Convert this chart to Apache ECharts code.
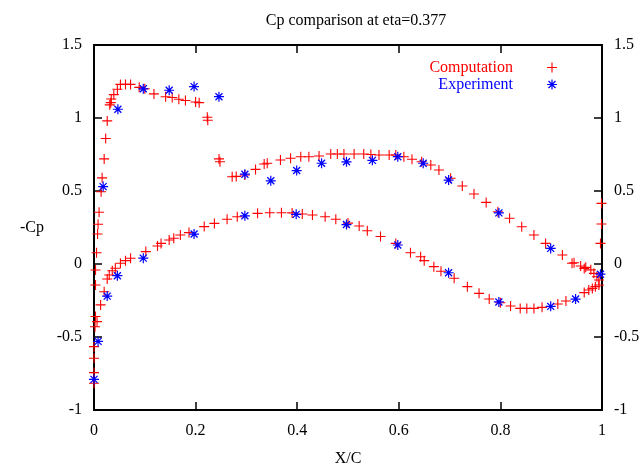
<!DOCTYPE html>
<html>
<head>
<meta charset="utf-8">
<script src="https://cdn.jsdelivr.net/npm/echarts@6/dist/echarts.min.js"></script>
<style>html,body{margin:0;padding:0;background:#fff}#c{width:643px;height:472px}</style>
</head>
<body>
<div id="c"></div>
<script>
const titleText = 'Cp comparison at eta=0.377';
const xName = 'X/C';
const yName = '-Cp';
const seriesNames = ['Computation', 'Experiment'];
const xTicks = [0, 0.2, 0.4, 0.6, 0.8, 1];
const yTicks = [-1, -0.5, 0, 0.5, 1, 1.5];

// Computation: [x/c, -Cp]
const computation = [
  [0.0,-0.817],[0.0,-0.744],[0.0,-0.646],[0.0,-0.566],[0.002,-0.43],[0.003,-0.36],[0.006,-0.395],
  [0.003,-0.144],[0.003,-0.041],[0.005,0.077],[0.007,0.205],[0.008,0.272],[0.010,0.354],[0.014,0.495],
  [0.016,0.59],[0.020,0.72],[0.023,0.86],[0.026,0.98],[0.031,1.09],[0.033,1.105],[0.034,1.13],
  [0.039,1.16],[0.046,1.197],[0.052,1.23],[0.062,1.23],[0.072,1.23],[0.089,1.21],[0.1,1.20],
  [0.118,1.165],[0.141,1.146],[0.154,1.14],[0.167,1.128],[0.18,1.12],[0.2,1.11],[0.207,1.105],
  [0.223,1.005],[0.224,0.985],[0.246,0.72],[0.248,0.70],[0.272,0.598],[0.28,0.6],[0.297,0.61],
  [0.318,0.648],[0.335,0.685],[0.341,0.69],[0.367,0.712],[0.387,0.724],[0.407,0.735],[0.423,0.735],
  [0.443,0.74],[0.466,0.753],[0.479,0.753],[0.492,0.753],[0.512,0.753],[0.531,0.753],[0.545,0.75],
  [0.561,0.747],[0.581,0.747],[0.594,0.747],[0.61,0.735],[0.626,0.717],[0.645,0.70],[0.663,0.678],
  [0.679,0.644],[0.702,0.587],[0.725,0.534],[0.748,0.479],[0.772,0.422],[0.795,0.358],[0.818,0.313],
  [0.842,0.255],[0.866,0.199],[0.889,0.141],[0.922,0.062],[0.941,0.005],[0.945,0.009],[0.958,-0.014],
  [0.965,-0.03],[0.968,-0.023],[0.978,-0.04],[0.984,-0.064],[0.99,-0.087],[0.994,-0.11],
  [0.999,0.415],[0.999,0.274],[0.997,0.141],
  [0.994,-0.144],[0.987,-0.155],[0.981,-0.167],[0.974,-0.178],[0.965,-0.196],[0.929,-0.253],
  [0.913,-0.274],[0.882,-0.297],[0.866,-0.304],[0.852,-0.304],[0.839,-0.304],[0.82,-0.288],
  [0.80,-0.265],[0.778,-0.24],[0.758,-0.201],[0.735,-0.155],[0.709,-0.098],[0.683,-0.05],
  [0.669,-0.018],[0.65,0.023],[0.643,0.05],[0.623,0.077],[0.594,0.141],[0.564,0.188],[0.538,0.228],
  [0.522,0.26],[0.50,0.28],[0.476,0.306],[0.455,0.324],[0.43,0.336],[0.41,0.342],[0.39,0.35],
  [0.369,0.351],[0.346,0.351],[0.322,0.347],[0.282,0.324],[0.262,0.306],[0.237,0.278],[0.217,0.256],
  [0.187,0.215],[0.17,0.199],[0.157,0.176],[0.148,0.164],[0.132,0.141],[0.125,0.123],[0.102,0.085],
  [0.072,0.039],[0.062,0.023],[0.052,0.005],[0.042,-0.029],[0.036,-0.046],[0.03,-0.075],
  [0.026,-0.103],[0.02,-0.19],[0.013,-0.28]
];

// Experiment: [x/c, -Cp]
const experiment = [
  [0.0,-0.79],[0.008,-0.53],[0.026,-0.22],[0.046,-0.08],[0.097,0.04],[0.197,0.205],[0.297,0.33],
  [0.398,0.34],[0.497,0.27],[0.598,0.13],[0.698,-0.06],[0.797,-0.26],[0.899,-0.29],[0.948,-0.24],
  [0.997,-0.07],
  [0.018,0.53],[0.047,1.06],[0.097,1.20],[0.148,1.19],[0.197,1.215],[0.246,1.146],[0.297,0.615],
  [0.348,0.57],[0.399,0.64],[0.448,0.69],[0.497,0.70],[0.548,0.71],[0.598,0.735],[0.648,0.69],
  [0.698,0.575],[0.797,0.35],[0.899,0.107]
];

const FONT = '"Liberation Serif", "DejaVu Serif", serif';
const plusPath = 'path://M4.45,0h1.1v4.45h4.45v1.1h-4.45v4.45h-1.1v-4.45h-4.45v-1.1h4.45z';
const starPath = 'path://M4.4,0h1.2v4.4h4.4v1.2h-4.4v4.4h-1.2v-4.4h-4.4v-1.2h4.4z' +
  'M1.04,1.96L1.96,1.04L8.96,8.04L8.04,8.96z' +
  'M8.04,1.04L8.96,1.96L1.96,8.96L1.04,8.04z';

const axisLine = {show: true, onZero: false, lineStyle: {color: '#000', width: 2}};
const tick = {show: true, inside: true, length: 8, lineStyle: {color: '#000', width: 1.5}};
const lbl = {color: '#000', fontFamily: FONT, fontSize: 16};

const chart = echarts.init(document.getElementById('c'), null, {renderer: 'canvas'});
chart.setOption({
  animation: false,
  backgroundColor: '#fff',
  title: {
    text: titleText, left: 351, top: 8, textAlign: 'center',
    textStyle: {fontFamily: FONT, fontSize: 16, fontWeight: 'normal', color: '#000'}
  },
  grid: {left: 94, right: 41, top: 45, bottom: 61, containLabel: false},
  legend: {
    orient: 'vertical', right: 81, top: 54, align: 'right', itemGap: 0,
    itemWidth: 10, itemHeight: 10,
    data: [
      {name: seriesNames[0], textStyle: {color: '#ff0000'}},
      {name: seriesNames[1], textStyle: {color: '#0000ff'}}
    ],
    textStyle: {fontFamily: FONT, fontSize: 16, lineHeight: 17, padding: [0, 29, 0, 0]}
  },
  xAxis: [
    {type: 'value', position: 'bottom', min: xTicks[0], max: xTicks[xTicks.length - 1], interval: 0.2,
     name: xName, nameLocation: 'middle', nameGap: 41,
     nameTextStyle: {fontFamily: FONT, fontSize: 16, color: '#000'},
     axisLine: axisLine, axisTick: tick, splitLine: {show: false},
     axisLabel: Object.assign({margin: 13}, lbl)},
    {type: 'value', position: 'top', min: xTicks[0], max: xTicks[xTicks.length - 1], interval: 0.2,
     axisLine: axisLine, axisTick: tick, splitLine: {show: false}, axisLabel: {show: false}}
  ],
  yAxis: [
    {type: 'value', position: 'left', min: yTicks[0], max: yTicks[yTicks.length - 1], interval: 0.5,
     name: yName, nameLocation: 'middle', nameGap: 50, nameRotate: 0,
     nameTextStyle: {fontFamily: FONT, fontSize: 16, color: '#000'},
     axisLine: axisLine, axisTick: tick, splitLine: {show: false},
     axisLabel: Object.assign({margin: 12}, lbl)},
    {type: 'value', position: 'right', min: yTicks[0], max: yTicks[yTicks.length - 1], interval: 0.5,
     axisLine: axisLine, axisTick: tick, splitLine: {show: false},
     axisLabel: Object.assign({margin: 12}, lbl)}
  ],
  series: [
    {name: seriesNames[0], type: 'scatter', data: computation, symbol: plusPath, symbolSize: 10,
     itemStyle: {color: '#ff0000', opacity: 1}, z: 2},
    {name: seriesNames[1], type: 'scatter', data: experiment, symbol: starPath, symbolSize: 10,
     itemStyle: {color: '#0000ff', opacity: 1}, z: 3}
  ]
});
</script>
</body>
</html>
